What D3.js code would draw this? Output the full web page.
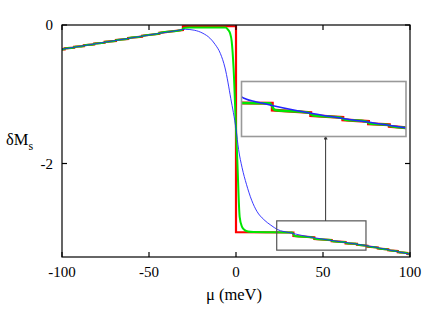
<!DOCTYPE html>
<html>
<head>
<meta charset="utf-8">
<script src="https://cdn.jsdelivr.net/npm/d3@7"></script>
<style>
  html, body { margin: 0; padding: 0; background: #fff; }
  svg { display: block; }
  text { font-family: "Liberation Serif", "DejaVu Serif", serif; }
</style>
</head>
<body>
<svg id="chart" width="436" height="313"></svg>
<script>
'use strict';

// tick labels
const xTicks = [-100, -50, 0, 50, 100];
const yTicks = [0, -2];

// red: sharp staircase, [mu, dMs]
const redPts = [
    [-100, -0.352], [-98.5, -0.351], [-98.5, -0.337], [-93, -0.328], [-93, -0.314],
    [-87.5, -0.306], [-87.5, -0.292], [-81.5, -0.281], [-81.5, -0.267],
    [-75.5, -0.257], [-75.5, -0.243], [-69, -0.23], [-69, -0.216],
    [-62, -0.201], [-62, -0.187], [-54, -0.168], [-54, -0.154],
    [-44, -0.127], [-44, -0.113], [-30.5, -0.074], [-30.5, -0.018],
    [0, -0.018], [0, -2.99], [33, -2.996], [33, -3.047],
    [45, -3.067], [45, -3.09], [55, -3.105], [55, -3.122],
    [63, -3.135], [63, -3.153], [69.5, -3.16], [69.5, -3.173],
    [75.5, -3.186], [75.5, -3.2], [81.5, -3.212], [81.5, -3.227],
    [87.5, -3.239], [87.5, -3.254], [93, -3.265], [93, -3.28],
    [98.5, -3.291], [98.5, -3.306], [100, -3.31]
];

// green: slightly smoothed staircase
const greenPts = [
    [-100, -0.352], [-99.2, -0.351], [-97.8, -0.337], [-93.8, -0.328], [-92.2, -0.314],
    [-88.3, -0.306], [-86.7, -0.292], [-82.3, -0.281], [-80.7, -0.267],
    [-76.3, -0.257], [-74.7, -0.243], [-69.8, -0.23], [-68.2, -0.216],
    [-62.8, -0.201], [-61.2, -0.187], [-54.8, -0.168], [-53.2, -0.154],
    [-44.8, -0.127], [-43.2, -0.113], [-32, -0.076], [-31, -0.066],
    [-30, -0.045], [-29, -0.038], [-27, -0.036], [-6, -0.036],
    [-4.5, -0.07], [-3.4, -0.12], [-2.5, -0.23], [-1.4, -0.62],
    [0, -1.5], [0.75, -1.95], [2.1, -2.77], [3.4, -2.91], [5, -2.962],
    [6.9, -2.982], [10, -2.99], [32.2, -2.996], [33.8, -3.047],
    [44.2, -3.067], [45.8, -3.09], [54.2, -3.105], [55.8, -3.122],
    [62.2, -3.135], [63.8, -3.153], [68.7, -3.16], [70.3, -3.173],
    [74.7, -3.186], [76.3, -3.2], [80.7, -3.212], [82.3, -3.227],
    [86.7, -3.239], [88.3, -3.254], [92.2, -3.265], [93.8, -3.28],
    [97.7, -3.291], [99.3, -3.306], [100, -3.31]
];

// blue: smooth curve
const bluePts = [
    [-100, -0.35], [-80, -0.268], [-60, -0.186], [-45, -0.124], [-35, -0.085],
    [-29, -0.062], [-24, -0.075], [-19, -0.12], [-15, -0.19], [-12, -0.28],
    [-9, -0.41], [-6.3, -0.62], [-3, -1.06], [0, -1.5], [1.5, -1.8],
    [3.5, -2.06], [6, -2.3], [9, -2.53], [12, -2.69], [16, -2.81],
    [20, -2.89], [24, -2.955], [30, -2.995], [45, -3.072], [60, -3.13],
    [75, -3.186], [90, -3.258], [100, -3.31]
];

// zoomed window (mu range, dMs range)
const zoomMu = [23.4, 74.7];
const zoomVal = [-2.828, -3.251];
const ARROW_MU = 51.5;

const svg = d3.select('#chart');
const L = 62, R = 410, T = 25, B = 257;
const SERIF = '"Liberation Serif", "Times New Roman", "DejaVu Serif", serif';

const x = d3.scaleLinear().domain([-100, 100]).range([L, R]);
const y = d3.scaleLinear().domain([0, -3.35]).range([T, B]);

svg.append('clipPath').attr('id', 'clipMain')
    .append('rect').attr('x', L).attr('y', T - 2).attr('width', R - L).attr('height', B - T + 2);

function drawCurves(g, xs, ys, widths) {
    const line = d3.line().x(function(d) { return xs(d[0]); }).y(function(d) { return ys(d[1]); });
    g.append('path').datum(redPts)
        .attr('d', line)
        .attr('fill', 'none').attr('stroke', '#ff0000').attr('stroke-width', widths[0]);
    g.append('path').datum(greenPts)
        .attr('d', line.curve(d3.curveMonotoneX))
        .attr('fill', 'none').attr('stroke', '#00e600').attr('stroke-width', widths[1]);
    g.append('path').datum(bluePts)
        .attr('d', line.curve(d3.curveMonotoneX))
        .attr('fill', 'none').attr('stroke', '#2424ff').attr('stroke-width', widths[2]);
}

const main = svg.append('g').attr('clip-path', 'url(#clipMain)');
drawCurves(main, x, y, [2.2, 2, 0.9]);

// small box marking zoomed window
svg.append('rect')
    .attr('x', x(zoomMu[0])).attr('y', y(zoomVal[0]))
    .attr('width', x(zoomMu[1]) - x(zoomMu[0]))
    .attr('height', y(zoomVal[1]) - y(zoomVal[0]))
    .attr('fill', 'none').attr('stroke', '#555').attr('stroke-width', 1.2);

// inset
const IX0 = 241.5, IX1 = 406, IY0 = 81.5, IY1 = 136.5;
const xi = d3.scaleLinear().domain(zoomMu).range([IX0, IX1]);
const yi = d3.scaleLinear().domain(zoomVal).range([IY0, IY1]);

svg.append('defs').append('marker')
    .attr('id', 'arrow').attr('viewBox', '0 0 6 6')
    .attr('refX', 3).attr('refY', 3)
    .attr('markerWidth', 4).attr('markerHeight', 4)
    .attr('orient', 'auto')
    .append('path').attr('d', 'M0,0 L6,3 L0,6 Z').attr('fill', '#333');

svg.append('line')
    .attr('x1', x(ARROW_MU)).attr('x2', x(ARROW_MU))
    .attr('y1', y(zoomVal[0])).attr('y2', IY1 + 1)
    .attr('stroke', '#333').attr('stroke-width', 1)
    .attr('marker-end', 'url(#arrow)');

svg.append('clipPath').attr('id', 'clipInset')
    .append('rect').attr('x', IX0).attr('y', IY0).attr('width', IX1 - IX0).attr('height', IY1 - IY0);

svg.append('rect')
    .attr('x', IX0).attr('y', IY0).attr('width', IX1 - IX0).attr('height', IY1 - IY0)
    .attr('fill', '#fff');
const inset = svg.append('g').attr('clip-path', 'url(#clipInset)');
drawCurves(inset, xi, yi, [3, 2.5, 1.5]);
svg.append('rect')
    .attr('x', IX0).attr('y', IY0).attr('width', IX1 - IX0).attr('height', IY1 - IY0)
    .attr('fill', 'none').attr('stroke', '#999').attr('stroke-width', 1.6);

// frame + mirrored inward ticks
const TICK = 5;
const frame = svg.append('g').attr('stroke', '#000').attr('stroke-width', 1.2);
frame.append('rect').attr('x', L).attr('y', T).attr('width', R - L).attr('height', B - T).attr('fill', 'none');
xTicks.forEach(function(t) {
    frame.append('line').attr('x1', x(t)).attr('x2', x(t)).attr('y1', B).attr('y2', B - TICK);
    frame.append('line').attr('x1', x(t)).attr('x2', x(t)).attr('y1', T).attr('y2', T + TICK);
});
yTicks.forEach(function(t) {
    frame.append('line').attr('x1', L).attr('x2', L + TICK).attr('y1', y(t)).attr('y2', y(t));
    frame.append('line').attr('x1', R).attr('x2', R - TICK).attr('y1', y(t)).attr('y2', y(t));
});

// tick labels
svg.append('g').selectAll('text').data(xTicks).enter().append('text')
    .attr('x', function(d) { return x(d); })
    .attr('y', B + 20)
    .attr('text-anchor', 'middle')
    .attr('font-family', SERIF)
    .attr('font-size', 15)
    .text(function(d) { return d; });

svg.append('g').selectAll('text').data(yTicks).enter().append('text')
    .attr('x', L - 9)
    .attr('y', function(d) { return y(d) + 5; })
    .attr('text-anchor', 'end')
    .attr('font-family', SERIF)
    .attr('font-size', 15)
    .text(function(d) { return d; });

// axis titles
svg.append('text')
    .attr('x', (L + R) / 2 - 2).attr('y', 300)
    .attr('text-anchor', 'middle')
    .attr('font-family', SERIF)
    .attr('font-size', 16.5)
    .text('μ (meV)');

const yl = svg.append('text').attr('x', 6).attr('y', 145)
    .attr('font-family', SERIF).attr('font-size', 16.5);
yl.append('tspan').text('δM');
yl.append('tspan').attr('dy', 5).attr('font-size', 12).text('s');
</script>
</body>
</html>
